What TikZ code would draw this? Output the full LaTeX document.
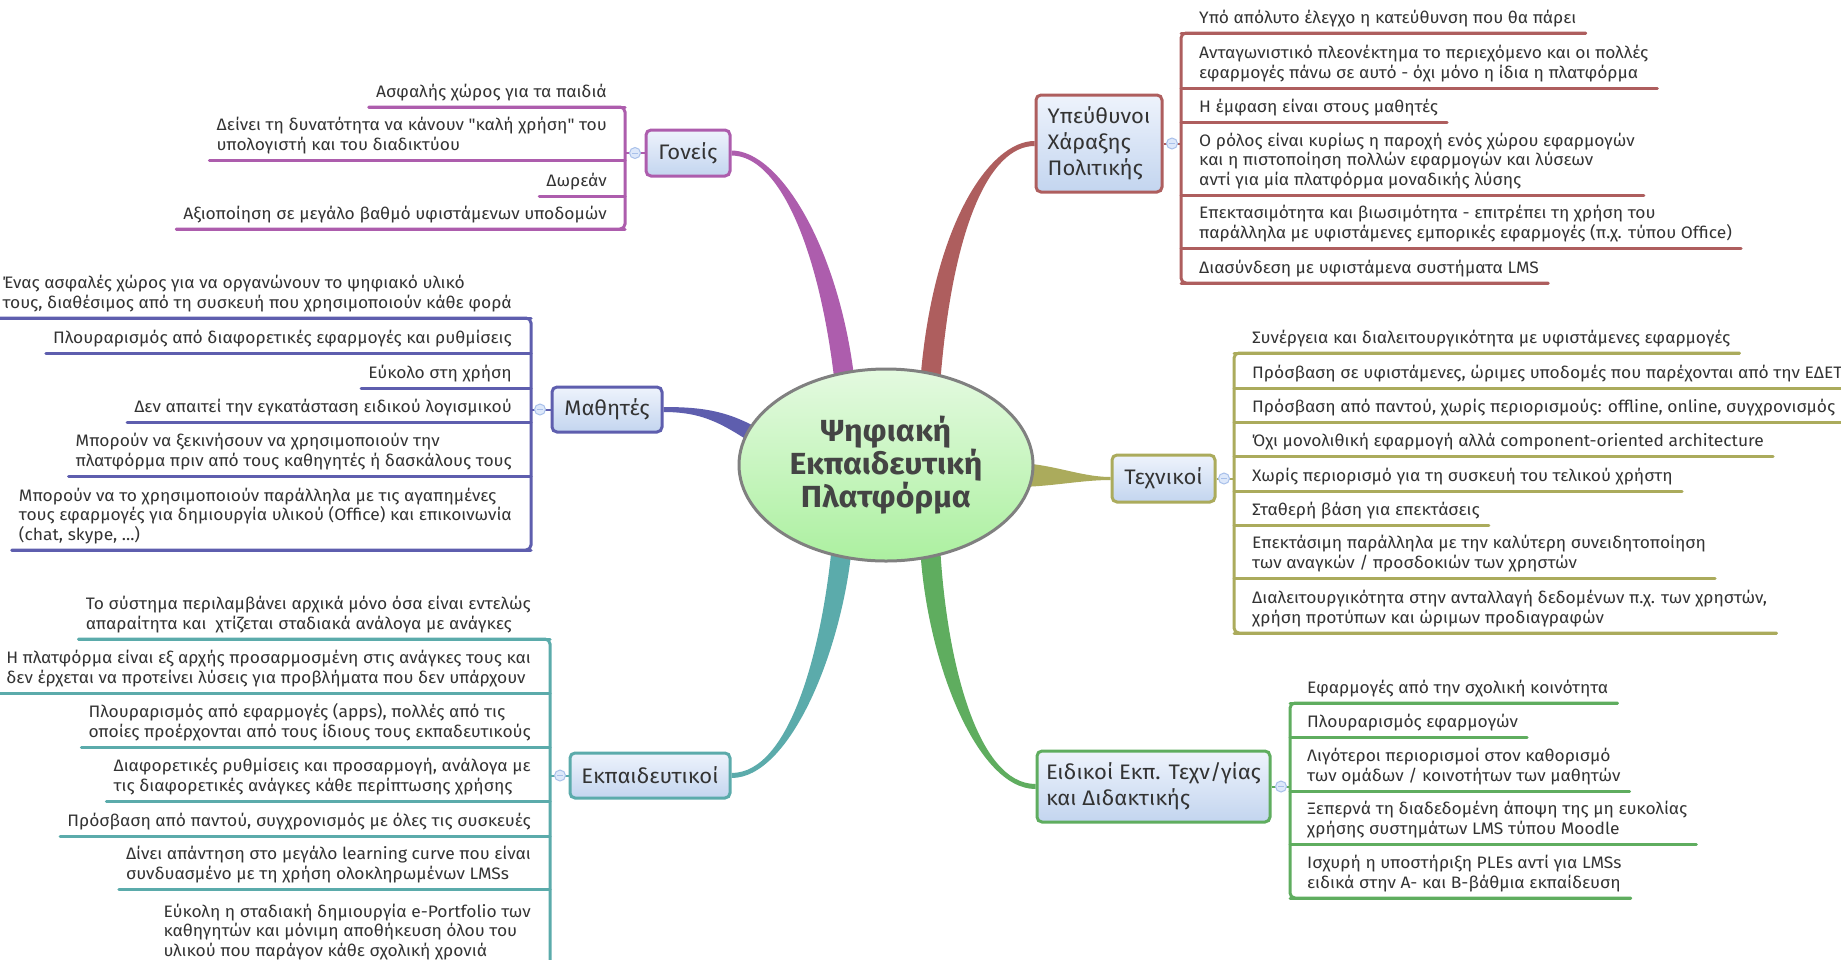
\documentclass[tikz,border=0pt]{standalone}
\usepackage{fontspec}
\setmainfont{Fira Sans}[FakeStretch=1.05]
\newfontfamily\qfont{Fira Sans}[FakeStretch=1.05]
\usetikzlibrary{shapes.geometric,calc,backgrounds}
\definecolor{gonC}{HTML}{AD5DAD}
\definecolor{polC}{HTML}{AE5E5E}
\definecolor{matC}{HTML}{5E5EAE}
\definecolor{texC}{HTML}{ABAB5C}
\definecolor{ekpC}{HTML}{5BABAB}
\definecolor{eidC}{HTML}{5FAD5F}
\definecolor{txtC}{HTML}{333333}
\definecolor{boxT}{HTML}{EEF3FC}
\definecolor{boxB}{HTML}{C3D5EF}
\definecolor{ctrT}{HTML}{E4FAE0}
\definecolor{ctrB}{HTML}{ACF0A0}
\definecolor{ctrLine}{HTML}{808080}
\definecolor{ctrTxt}{HTML}{444444}
\definecolor{colC}{HTML}{A8C0EA}
\definecolor{colF}{HTML}{DDE8FA}
\tikzset{
  itemtext/.style={inner xsep=0pt, inner ysep=0pt, text depth=9.5pt, align=left,
    font=\fontsize{16.6}{19.5}\selectfont, text=txtC},
  uline/.style={line width=3pt, line cap=round},
  topic/.style={rectangle, rounded corners=5pt, line width=3pt, top color=boxT,
    bottom color=boxB, text=txtC, font=\fontsize{21}{26}\selectfont, align=left, inner sep=0pt},
  collapse/.style={circle, draw=colC, fill=colF, line width=1pt, minimum size=11pt, inner sep=0pt},
  colmark/.style={draw=colC, line width=0.8pt}
}
\newcommand\itemL[6]{%
  \coordinate (#1j) at (#3,#5);
  \node[itemtext, anchor=south east] (#1) at (#4,#5) {#6};
  \draw[uline, #2] ([xshift=-7pt]#1.south west) -- (#1j);
}
\newcommand\itemR[6]{%
  \coordinate (#1j) at (#3,#5);
  \node[itemtext, anchor=south west] (#1) at (#4,#5) {#6};
  \draw[uline, #2] (#1j) -- ([xshift=9pt]#1.south east);
}
\newcommand\taper[7]{%
  \fill[#7] ($(#1)!#5!90:(#2)$) .. controls ($(#2)!#5!-90:(#1)$) and ($(#3)!#6!90:(#4)$) .. ($(#4)!#6!-90:(#3)$)
    -- ($(#4)!#6!90:(#3)$) .. controls ($(#3)!#6!-90:(#4)$) and ($(#2)!#5!90:(#1)$) .. ($(#1)!#5!-90:(#2)$) -- cycle;
}
\newcommand\collapsenode[2]{%
  \node[collapse] (#1) at #2 {};
  \draw[colmark] ([xshift=-2.8pt]#1.center) -- ([xshift=2.8pt]#1.center);
}
\newcommand\sq{{\qfont"}}
\begin{document}
\begin{tikzpicture}[x=1pt,y=-1pt]
\useasboundingbox (0,0) rectangle (1841,959);

% central node
\node[ellipse, draw=ctrLine, line width=3pt, top color=ctrT, bottom color=ctrB,
  minimum width=294pt, minimum height=192pt, inner sep=0pt, align=center,
  font=\fontsize{30.5}{33}\selectfont\bfseries, text=ctrTxt] (ctr) at (886,465)
  {Ψηφιακή\\Εκπαιδευτική\\Πλατφόρμα};

% topic boxes
\node[topic, draw=gonC, minimum width=84pt, minimum height=46pt] (gon) at (688,153) {Γονείς};
\node[topic, draw=matC, minimum width=110pt, minimum height=45pt] (mat) at (607,409.5) {Μαθητές};
\node[topic, draw=ekpC, minimum width=160pt, minimum height=45pt] (ekp) at (650,775.5) {Εκπαιδευτικοί};
\node[topic, draw=polC, minimum width=126pt, minimum height=97pt] (pol) at (1099,143.5) {Υπεύθυνοι\\Χάραξης\\Πολιτικής};
\node[topic, draw=texC, minimum width=103pt, minimum height=47pt] (tex) at (1163.5,478.5) {Τεχνικοί};
\node[topic, draw=eidC, minimum width=233pt, minimum height=71pt] (eid) at (1153.5,786.5) {Ειδικοί Εκπ. Τεχν/γίας\\και Διδακτικής};

% control points of main connectors
\coordinate (gA) at (780,153);   \coordinate (gB) at (830,250);  \coordinate (gE) at (845,385);
\coordinate (pA) at (990,143.5); \coordinate (pB) at (942,225);  \coordinate (pE) at (930,385);
\coordinate (mA) at (705,409.5); \coordinate (mB) at (728,418);  \coordinate (mE) at (765,442);
\coordinate (kA) at (790,775.5); \coordinate (kB) at (832,650);  \coordinate (kE) at (842,545);
\coordinate (dA) at (977,786.5); \coordinate (dB) at (936,660);  \coordinate (dE) at (930,545);
\coordinate (tA) at (1080,478.5);\coordinate (tB) at (1050,475); \coordinate (tE) at (1015,475);

\begin{pgfonlayer}{background}
  \fill[white] (0,0) rectangle (1841,959);
  \taper{gon.east}{gA}{gB}{gE}{2.5pt}{10pt}{gonC}
  \taper{pol.west}{pA}{pB}{pE}{2.5pt}{10pt}{polC}
  \taper{mat.east}{mA}{mB}{mE}{2.5pt}{8pt}{matC}
  \taper{ekp.east}{kA}{kB}{kE}{2.5pt}{10pt}{ekpC}
  \taper{eid.west}{dA}{dB}{dE}{2.5pt}{10pt}{eidC}
  \taper{tex.west}{tA}{tB}{tE}{1.5pt}{12pt}{texC}
\end{pgfonlayer}

% ---------- Γονείς ----------
\itemL{g1}{gonC}{625}{607}{107}{Ασφαλής χώρος για τα παιδιά}
\itemL{g2}{gonC}{625}{607}{160}{Δείνει τη δυνατότητα να κάνουν \sq καλή χρήση\sq\ του\\υπολογιστή και του διαδικτύου}
\itemL{g3}{gonC}{625}{607}{196}{Δωρεάν}
\itemL{g4}{gonC}{625}{607}{229}{Αξιοποίηση σε μεγάλο βαθμό υφιστάμενων υποδομών}
\draw[uline, gonC, rounded corners=5pt] ([xshift=-7pt]g1.south west) -- (g1j) -- (g4j) -- ([xshift=-7pt]g4.south west);
\coordinate (gonJ) at (625,153);
\draw[gonC, line width=2pt] (gonJ) -- (gon.west);
\collapsenode{gonc}{(635,153)}

% ---------- Μαθητές ----------
\itemL{m1}{matC}{531}{512}{318}{Ένας ασφαλές χώρος για να οργανώνουν το ψηφιακό υλικό\\τους, διαθέσιμος από τη συσκευή που χρησιμοποιούν κάθε φορά}
\itemL{m2}{matC}{531}{512}{353}{Πλουραρισμός από διαφορετικές εφαρμογές και ρυθμίσεις}
\itemL{m3}{matC}{531}{512}{388}{Εύκολο στη χρήση}
\itemL{m4}{matC}{531}{512}{422}{Δεν απαιτεί την εγκατάσταση ειδικού λογισμικού}
\itemL{m5}{matC}{531}{512}{476}{Μπορούν να ξεκινήσουν να χρησιμοποιούν την\\πλατφόρμα πριν από τους καθηγητές ή δασκάλους τους}
\itemL{m6}{matC}{531}{512}{550}{Μπορούν να το χρησιμοποιούν παράλληλα με τις αγαπημένες\\τους εφαρμογές για δημιουργία υλικού (Office) και επικοινωνία\\(chat, skype, ...)}
\draw[uline, matC, rounded corners=5pt] ([xshift=-7pt]m1.south west) -- (m1j) -- (m6j) -- ([xshift=-7pt]m6.south west);
\coordinate (matJ) at (531,409.5);
\draw[matC, line width=2pt] (matJ) -- (mat.west);
\collapsenode{matc}{(540,409.5)}

% ---------- Εκπαιδευτικοί ----------
\itemL{k1}{ekpC}{550}{531}{639}{Το σύστημα περιλαμβάνει αρχικά μόνο όσα είναι εντελώς\\απαραίτητα και \ χτίζεται σταδιακά ανάλογα με ανάγκες}
\itemL{k2}{ekpC}{550}{531}{693}{Η πλατφόρμα είναι εξ αρχής προσαρμοσμένη στις ανάγκες τους και\\δεν έρχεται να προτείνει λύσεις για προβλήματα που δεν υπάρχουν}
\itemL{k3}{ekpC}{550}{531}{747}{Πλουραρισμός από εφαρμογές (apps), πολλές από τις\\οποίες προέρχονται από τους ίδιους τους εκπαδευτικούς}
\itemL{k4}{ekpC}{550}{531}{801}{Διαφορετικές ρυθμίσεις και προσαρμογή, ανάλογα με\\τις διαφορετικές ανάγκες κάθε περίπτωσης χρήσης}
\itemL{k5}{ekpC}{550}{531}{836}{Πρόσβαση από παντού, συγχρονισμός με όλες τις συσκευές}
\itemL{k6}{ekpC}{550}{531}{889}{Δίνει απάντηση στο μεγάλο learning curve που είναι\\συνδυασμένο με τη χρήση ολοκληρωμένων LMSs}
\itemL{k7}{ekpC}{550}{531}{966}{Εύκολη η σταδιακή δημιουργία e-Portfolio των\\καθηγητών και μόνιμη αποθήκευση όλου του\\υλικού που παράγον κάθε σχολική χρονιά}
\draw[uline, ekpC, rounded corners=5pt] ([xshift=-7pt]k1.south west) -- (k1j) -- (k7j) -- ([xshift=-7pt]k7.south west);
\coordinate (ekpJ) at (550,775.5);
\draw[ekpC, line width=2pt] (ekpJ) -- (ekp.west);
\collapsenode{ekpc}{(560,775.5)}

% ---------- Υπεύθυνοι Χάραξης Πολιτικής ----------
\itemR{p1}{polC}{1181}{1199}{33}{Υπό απόλυτο έλεγχο η κατεύθυνση που θα πάρει}
\itemR{p2}{polC}{1181}{1199}{88}{Ανταγωνιστικό πλεονέκτημα το περιεχόμενο και οι πολλές\\εφαρμογές πάνω σε αυτό - όχι μόνο η ίδια η πλατφόρμα}
\itemR{p3}{polC}{1181}{1199}{122}{Η έμφαση είναι στους μαθητές}
\itemR{p4}{polC}{1181}{1199}{195}{Ο ρόλος είναι κυρίως η παροχή ενός χώρου εφαρμογών\\και η πιστοποίηση πολλών εφαρμογών και λύσεων\\αντί για μία πλατφόρμα μοναδικής λύσης}
\itemR{p5}{polC}{1181}{1199}{248}{Επεκτασιμότητα και βιωσιμότητα - επιτρέπει τη χρήση του\\παράλληλα με υφιστάμενες εμπορικές εφαρμογές (π.χ. τύπου Office)}
\itemR{p6}{polC}{1181}{1199}{283}{Διασύνδεση με υφιστάμενα συστήματα LMS}
\draw[uline, polC, rounded corners=5pt] ([xshift=9pt]p1.south east) -- (p1j) -- (p6j) -- ([xshift=9pt]p6.south east);
\coordinate (polJ) at (1181,143.5);
\draw[polC, line width=2pt] (pol.east) -- (polJ);
\collapsenode{polc}{(1172,143.5)}

% ---------- Τεχνικοί ----------
\itemR{t1}{texC}{1234}{1252}{353}{Συνέργεια και διαλειτουργικότητα με υφιστάμενες εφαρμογές}
\itemR{t2}{texC}{1234}{1252}{388}{Πρόσβαση σε υφιστάμενες, ώριμες υποδομές που παρέχονται από την ΕΔΕΤ}
\itemR{t3}{texC}{1234}{1252}{422}{Πρόσβαση από παντού, χωρίς περιορισμούς: offline, online, συγχρονισμός}
\itemR{t4}{texC}{1234}{1252}{456}{Όχι μονολιθική εφαρμογή αλλά component-oriented architecture}
\itemR{t5}{texC}{1234}{1252}{491}{Χωρίς περιορισμό για τη συσκευή του τελικού χρήστη}
\itemR{t6}{texC}{1234}{1252}{525}{Σταθερή βάση για επεκτάσεις}
\itemR{t7}{texC}{1234}{1252}{578}{Επεκτάσιμη παράλληλα με την καλύτερη συνειδητοποίηση\\των αναγκών / προσδοκιών των χρηστών}
\itemR{t8}{texC}{1234}{1252}{633}{Διαλειτουργικότητα στην ανταλλαγή δεδομένων π.χ. των χρηστών,\\χρήση προτύπων και ώριμων προδιαγραφών}
\draw[uline, texC, rounded corners=5pt] ([xshift=9pt]t1.south east) -- (t1j) -- (t8j) -- ([xshift=9pt]t8.south east);
\coordinate (texJ) at (1234,478.5);
\draw[texC, line width=2pt] (tex.east) -- (texJ);
\collapsenode{texc}{(1224,478.5)}

% ---------- Ειδικοί ----------
\itemR{d1}{eidC}{1290}{1307}{703}{Εφαρμογές από την σχολική κοινότητα}
\itemR{d2}{eidC}{1290}{1307}{737}{Πλουραρισμός εφαρμογών}
\itemR{d3}{eidC}{1290}{1307}{791}{Λιγότεροι περιορισμοί στον καθορισμό\\των ομάδων / κοινοτήτων των μαθητών}
\itemR{d4}{eidC}{1290}{1307}{844}{Ξεπερνά τη διαδεδομένη άποψη της μη ευκολίας\\χρήσης συστημάτων LMS τύπου Moodle}
\itemR{d5}{eidC}{1290}{1307}{898}{Ισχυρή η υποστήριξη PLEs αντί για LMSs\\ειδικά στην Α- και Β-βάθμια εκπαίδευση}
\draw[uline, eidC, rounded corners=5pt] ([xshift=9pt]d1.south east) -- (d1j) -- (d5j) -- ([xshift=9pt]d5.south east);
\coordinate (eidJ) at (1290,786.5);
\draw[eidC, line width=2pt] (eid.east) -- (eidJ);
\collapsenode{eidc}{(1281,786.5)}
\end{tikzpicture}
\end{document}
